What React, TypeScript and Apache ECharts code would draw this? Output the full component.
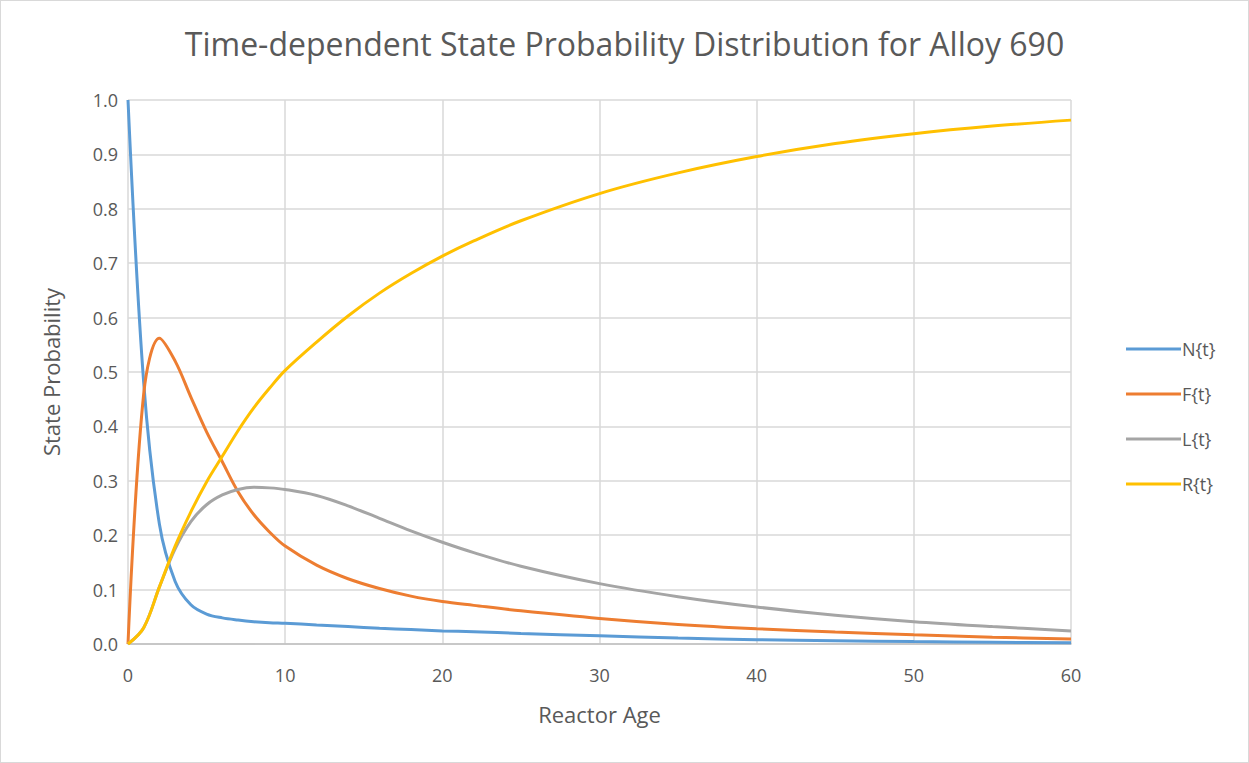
import React, { useEffect, useRef } from "react";
import * as echarts from "echarts";

const ages = [0, 1, 2, 3, 4, 5, 6, 7, 8, 9, 10, 12, 14, 16, 18, 20, 22, 25, 30, 35, 40, 45, 50, 55, 60];
const nVals = [1.0, 0.48, 0.22, 0.115, 0.072, 0.055, 0.048, 0.044, 0.041, 0.039, 0.038, 0.035, 0.032, 0.029, 0.0265, 0.024, 0.0225, 0.0195, 0.015, 0.011, 0.008, 0.006, 0.0044, 0.0032, 0.0023];
const fVals = [0.0, 0.46, 0.562, 0.52, 0.454, 0.39, 0.335, 0.28, 0.238, 0.206, 0.18, 0.145, 0.12, 0.102, 0.088, 0.078, 0.071, 0.061, 0.047, 0.036, 0.028, 0.022, 0.017, 0.0125, 0.009];
const lVals = [0.0, 0.03, 0.105, 0.175, 0.225, 0.256, 0.274, 0.284, 0.288, 0.287, 0.284, 0.273, 0.254, 0.231, 0.208, 0.187, 0.168, 0.143, 0.111, 0.087, 0.068, 0.053, 0.041, 0.032, 0.024];
const rVals = [0.0, 0.03, 0.105, 0.18, 0.243, 0.298, 0.345, 0.392, 0.434, 0.47, 0.503, 0.555, 0.603, 0.645, 0.681, 0.713, 0.741, 0.778, 0.828, 0.866, 0.896, 0.92, 0.938, 0.952, 0.963];

const seriesNames = ["N{t}", "F{t}", "L{t}", "R{t}"];
const seriesColors = ["#5b9bd5", "#ed7d31", "#a5a5a5", "#ffc000"];
const seriesValues = [nVals, fVals, lVals, rVals];

const FONT = "'Open Sans', 'Noto Sans', sans-serif";

export default function App() {
  const ref = useRef<HTMLDivElement>(null);
  useEffect(() => {
    if (!ref.current) return;
    const chart = echarts.init(ref.current, undefined, { renderer: "svg" });
    chart.setOption({
      animation: false,
      backgroundColor: "#ffffff",
      title: {
        text: "Time-dependent State Probability Distribution for Alloy 690",
        left: "center",
        top: 21,
        textStyle: { fontFamily: FONT, fontSize: 32, fontWeight: "normal", color: "#595959" },
      },
      legend: {
        orient: "vertical",
        left: 1120,
        top: 334,
        itemWidth: 55,
        itemHeight: 3,
        itemGap: 27,
        icon: "rect",
        textStyle: { fontFamily: FONT, fontSize: 18, color: "#595959", padding: [0, 0, 0, -4] },
        data: seriesNames,
      },
      grid: { left: 127, right: 177, top: 99, bottom: 118, containLabel: false },
      xAxis: {
        type: "value",
        min: 0,
        max: 60,
        interval: 10,
        name: "Reactor Age",
        nameLocation: "middle",
        nameGap: 59,
        nameTextStyle: { fontFamily: FONT, fontSize: 22, color: "#595959" },
        axisLine: { show: true, lineStyle: { color: "#bfbfbf", width: 1.5 } },
        axisTick: { show: false },
        axisLabel: { fontFamily: FONT, fontSize: 18, color: "#595959", margin: 22 },
        splitLine: { show: true, lineStyle: { color: "#d9d9d9", width: 1.5 } },
      },
      yAxis: {
        type: "value",
        min: 0,
        max: 1,
        interval: 0.1,
        name: "State Probability",
        nameLocation: "middle",
        nameGap: 66,
        nameRotate: 90,
        nameTextStyle: { fontFamily: FONT, fontSize: 22, color: "#595959" },
        axisLine: { show: false },
        axisTick: { show: false },
        axisLabel: {
          fontFamily: FONT,
          fontSize: 18,
          color: "#595959",
          margin: 10,
          formatter: (v: number) => v.toFixed(1),
        },
        splitLine: { show: true, lineStyle: { color: "#d9d9d9", width: 1.5 } },
      },
      series: seriesNames.map((name, i) => ({
        name,
        type: "line",
        smooth: 0.35,
        showSymbol: false,
        symbol: "none",
        color: seriesColors[i],
        lineStyle: { width: 3, color: seriesColors[i] },
        data: ages.map((a, j) => [a, seriesValues[i][j]]),
      })),
    });
    return () => chart.dispose();
  }, []);
  return (
    <div
      style={{
        position: "fixed",
        left: 0,
        top: 0,
        width: 1249,
        height: 763,
        boxSizing: "border-box",
        border: "1px solid #d9d9d9",
        background: "#fff",
      }}
    >
      <div ref={ref} style={{ width: 1247, height: 761 }} />
    </div>
  );
}
